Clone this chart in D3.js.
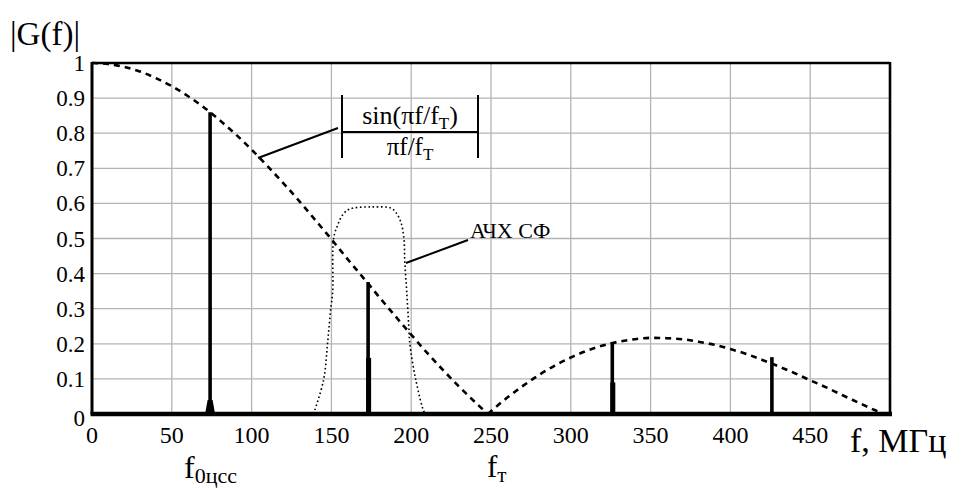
<!DOCTYPE html>
<html><head><meta charset="utf-8">
<script src="https://cdn.jsdelivr.net/npm/d3@7"></script>
<style>html,body{margin:0;padding:0;background:#fff;} svg{display:block;}</style>
</head><body>
<svg id="c" width="962" height="489"></svg>
<script>
// ---- data ----
const xTicks = [0,50,100,150,200,250,300,350,400,450];
const yTicks = [0,0.1,0.2,0.3,0.4,0.5,0.6,0.7,0.8,0.9,1];
const yTickLabels = ["0","0.1","0.2","0.3","0.4","0.5","0.6","0.7","0.8","0.9","1"];
// |sin(pi f/fT)/(pi f/fT)|, main lobe
const sincF1 = [0,10,20,30,40,50,60,70,80,90,100,110,120,130,140,150,160,170,180,190,200,210,220,230,240,248];
const sincG1 = [1,0.997,0.989,0.976,0.957,0.934,0.906,0.874,0.837,0.797,0.753,0.706,0.657,0.606,0.552,0.498,0.442,0.388,0.333,0.279,0.226,0.174,0.125,0.078,0.034,0];
// second lobe
const sincF2 = [248,250,260,270,280,290,300,310,320,330,340,350,360,370,380,390,400,410,420,430,440,450,460,470,480,490,497];
const sincG2 = [0,0.008,0.046,0.080,0.111,0.138,0.161,0.180,0.195,0.206,0.213,0.217,0.216,0.213,0.206,0.197,0.185,0.171,0.154,0.136,0.117,0.096,0.076,0.054,0.033,0.012,0];
// filter response (АЧХ СФ)
const filtF = [138.8,145.1,147.6,149.5,150.8,151.4,153.9,157.0,160.2,163.9,175.9,187.2,190.3,193.5,195.4,196.0,197.2,198.5,199.1,202.9,208.5,209.8];
const filtG = [0,0.097,0.202,0.296,0.348,0.501,0.538,0.567,0.581,0.587,0.590,0.587,0.575,0.547,0.501,0.433,0.348,0.248,0.202,0.097,0.003,0];
// spectral lines
const lineF = [74,173,326,426];
const lineG = [0.86,0.376,0.205,0.162];
const lineLowG = [0.04,0.16,0.09,0];

// ---- layout ----
const FONT = "'Liberation Serif', 'Times New Roman', serif";
const svg = d3.select("#c");
const x = d3.scaleLinear().domain([0,500]).range([92,890]);
const y = d3.scaleLinear().domain([0,1]).range([414,63]);
function txt(sel){ return sel.style("font-family",FONT).attr("fill","#000"); }

// grid
svg.append("g").selectAll("line").data(xTicks.filter(d=>d>0)).join("line")
  .attr("x1",d=>x(d)).attr("x2",d=>x(d)).attr("y1",y(0)).attr("y2",y(1))
  .attr("stroke","#b4b4b4").attr("stroke-width",1.3);
svg.append("g").selectAll("line").data(yTicks.filter(d=>d>0&&d<1)).join("line")
  .attr("x1",x(0)).attr("x2",x(500)).attr("y1",d=>y(d)).attr("y2",d=>y(d))
  .attr("stroke","#b4b4b4").attr("stroke-width",1.3);

// filter dotted curve
const lineGen = d3.line().x(d=>x(d[0])).y(d=>y(d[1]));
svg.append("path").datum(filtF.map((f,i)=>[f,filtG[i]]))
  .attr("d",lineGen.curve(d3.curveCatmullRom.alpha(0.5)))
  .attr("fill","none").attr("stroke","#000").attr("stroke-width",1.6)
  .attr("stroke-dasharray","1.6,2.6");

// sinc dashed curve
const mono = d3.line().x(d=>x(d[0])).y(d=>y(d[1])).curve(d3.curveMonotoneX);
[[sincF1,sincG1],[sincF2,sincG2]].forEach(([F,G])=>{
  svg.append("path").datum(F.map((f,i)=>[f,G[i]])).attr("d",mono)
    .attr("fill","none").attr("stroke","#000").attr("stroke-width",2.6)
    .attr("stroke-dasharray","6,5");
});

// spectral lines
const sp = svg.append("g");
lineF.forEach((f,i)=>{
  sp.append("line").attr("x1",x(f)).attr("x2",x(f)).attr("y1",y(0)).attr("y2",y(lineG[i]))
    .attr("stroke","#000").attr("stroke-width",3.6);
  if(lineLowG[i]>0){
    if(i===0){
      sp.append("path").attr("d",`M${x(f)-5},${y(0)} L${x(f)-2.5},${y(lineLowG[i])} L${x(f)+2.5},${y(lineLowG[i])} L${x(f)+5},${y(0)} Z`).attr("fill","#000");
    } else {
      sp.append("line").attr("x1",x(f)+0.5).attr("x2",x(f)+0.5).attr("y1",y(0)).attr("y2",y(lineLowG[i]))
        .attr("stroke","#000").attr("stroke-width",5);
    }
  }
});

// frame
svg.append("line").attr("x1",x(0)).attr("x2",x(500)).attr("y1",y(1)).attr("y2",y(1)).attr("stroke","#000").attr("stroke-width",2.5);
svg.append("line").attr("x1",x(0)).attr("x2",x(0)).attr("y1",y(1)-1).attr("y2",y(0)).attr("stroke","#000").attr("stroke-width",3);
svg.append("line").attr("x1",x(500)).attr("x2",x(500)).attr("y1",y(1)-1).attr("y2",y(0)).attr("stroke","#000").attr("stroke-width",2.6);
svg.append("line").attr("x1",x(0)-1.5).attr("x2",x(500)+2).attr("y1",y(0)).attr("y2",y(0)).attr("stroke","#000").attr("stroke-width",4.5);

// tick labels
txt(svg.append("g").selectAll("text").data(xTicks).join("text"))
  .attr("x",d=>x(d)).attr("y",443).attr("text-anchor","middle").attr("font-size",24).text(d=>d);
txt(svg.append("g").selectAll("text").data(yTicks).join("text"))
  .attr("x",85).attr("y",(d,i)=>y(d)+8+(i===0?4:0)).attr("text-anchor","end").attr("font-size",23)
  .text((d,i)=>yTickLabels[i]);

// axis titles
txt(svg.append("text")).attr("x",10).attr("y",45).attr("font-size",33).text("|G(f)|");
txt(svg.append("text")).attr("x",850).attr("y",452).attr("font-size",34).text("f, МГц");
const t1 = txt(svg.append("text")).attr("x",184).attr("y",478).attr("font-size",32);
t1.append("tspan").text("f");
t1.append("tspan").attr("font-size",22).attr("dy",5).text("0цсс");
const t2 = txt(svg.append("text")).attr("x",487).attr("y",477).attr("font-size",31);
t2.append("tspan").text("f");
t2.append("tspan").attr("font-size",21).attr("dy",5).text("т");

// formula annotation
const fm = svg.append("g");
fm.append("line").attr("x1",342).attr("x2",342).attr("y1",95).attr("y2",158).attr("stroke","#000").attr("stroke-width",2);
fm.append("line").attr("x1",478).attr("x2",478).attr("y1",95).attr("y2",158).attr("stroke","#000").attr("stroke-width",2);
fm.append("line").attr("x1",342).attr("x2",478).attr("y1",132).attr("y2",132).attr("stroke","#000").attr("stroke-width",2);
const ft = txt(fm.append("text")).attr("x",410).attr("y",124).attr("text-anchor","middle").attr("font-size",26);
ft.append("tspan").text("sin(πf/f");
ft.append("tspan").attr("font-size",17).attr("dy",5).text("T");
ft.append("tspan").attr("dy",-5).text(")");
const fb = txt(fm.append("text")).attr("x",410).attr("y",155).attr("text-anchor","middle").attr("font-size",25);
fb.append("tspan").text("πf/f");
fb.append("tspan").attr("font-size",17).attr("dy",5).text("T");
fm.append("line").attr("x1",258).attr("y1",158).attr("x2",338).attr("y2",128).attr("stroke","#000").attr("stroke-width",2);

// filter label
txt(svg.append("text")).attr("x",470).attr("y",238).attr("font-size",22).text("АЧХ СФ");
svg.append("line").attr("x1",406).attr("y1",263).attr("x2",468).attr("y2",240).attr("stroke","#000").attr("stroke-width",2);
</script>
</body></html>
